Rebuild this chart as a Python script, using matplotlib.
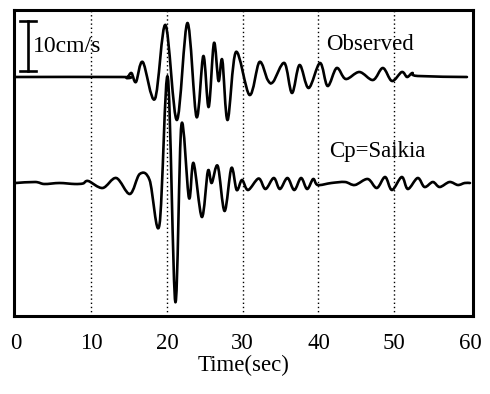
import matplotlib
matplotlib.use("Agg")
import matplotlib.pyplot as plt
from matplotlib.path import Path
from matplotlib.patches import PathPatch

plt.rcParams['font.family'] = ['Liberation Serif', 'DejaVu Serif']

# Observed velocity trace: time (s) and amplitude (cm/s)
obs_t = [0.0, 14.0, 14.7, 15.3, 15.9, 16.8, 18.4, 19.8, 21.3, 22.7, 23.9, 24.8,
         25.5, 26.2, 26.8, 27.3, 28.0, 29.1, 30.9, 32.2, 33.3, 34.0, 35.5, 36.5,
         37.5, 38.7, 40.2, 41.2, 42.4, 43.6, 45.4, 47.2, 48.5, 49.7, 51.0, 51.7,
         52.4, 53.1, 59.6]
obs_a = [0.0, 0.0, -0.2, 0.8, -1.0, 3.0, -4.4, 10.4, -8.6, 10.8, -8.0, 4.2,
         -6.0, 6.8, -0.8, 3.4, -8.6, 5.0, -3.6, 3.0, -0.6, -1.0, 2.8, -3.2,
         2.4, -2.2, 2.8, -1.8, 1.8, -0.4, 1.0, -0.6, 1.8, -0.8, 1.0, 0.0,
         0.8, 0.2, 0.0]

# Synthetic trace (Cp = Saikia)
syn_t = [0.0, 2.6, 3.8, 5.8, 7.8, 8.9, 9.6, 11.5, 13.3, 15.1, 16.4, 17.7,
         19.0, 20.1, 21.1, 21.9, 22.9, 23.5, 24.6, 25.4, 25.9, 26.7, 27.6, 28.5,
         29.2, 29.9, 30.7, 32.1, 33.0, 34.1, 34.9, 35.9, 36.8, 37.7, 38.5, 39.3,
         39.9, 41.7, 43.5, 44.8, 46.5, 47.7, 48.8, 49.7, 51.0, 51.8, 53.1, 54.0,
         55.1, 56.0, 57.3, 58.4, 59.3, 60.0]
syn_a = [0.0, 0.2, -0.2, 0.0, -0.2, -0.1, 0.4, -1.0, 1.0, -2.2, 1.8, 0.6,
         -8.4, 21.2, -23.8, 11.6, -3.0, 4.0, -6.8, 2.4, 0.0, 3.4, -5.6, 3.0,
         -1.4, 0.6, -1.4, 0.9, -1.2, 1.0, -1.2, 1.0, -1.4, 1.0, -1.2, 0.8,
         -0.4, 0.0, 0.2, -0.4, 0.8, -1.0, 1.2, -1.4, 1.2, -1.2, 1.0, -0.8,
         0.2, -0.8, 0.2, -0.4, 0.0, 0.0]

xticks = [0, 10, 20, 30, 40, 50, 60]
grid_x = [10, 20, 30, 40, 50]
scale_bar = 10.0  # cm/s

obs_offset = 47.8
syn_offset = 26.6


def smooth_path(xs, ys):
    """Smooth curve through the given points (Catmull-Rom drawn as Bezier segments)."""
    pts = list(zip(xs, ys))
    verts = [pts[0]]
    codes = [Path.MOVETO]
    n = len(pts)
    for i in range(n - 1):
        p0 = pts[i - 1] if i > 0 else pts[i]
        p1 = pts[i]
        p2 = pts[i + 1]
        p3 = pts[i + 2] if i + 2 < n else pts[i + 1]
        c1 = (p1[0] + (p2[0] - p0[0]) / 6.0, p1[1] + (p2[1] - p0[1]) / 6.0)
        c2 = (p2[0] - (p3[0] - p1[0]) / 6.0, p2[1] - (p3[1] - p1[1]) / 6.0)
        verts += [c1, c2, p2]
        codes += [Path.CURVE4] * 3
    return Path(verts, codes)


fig = plt.figure(figsize=(4.9, 3.94), dpi=100)
ax = fig.add_axes([14/490, 1 - 316/394, 459/490, 306/394])
ax.set_xlim(-0.2, 60.4)
ax.set_ylim(0, 61.2)

for g in grid_x:
    ax.axvline(g, color='black', lw=1.0, ls=(0, (1, 2)), zorder=1)

for tt, aa, off in [(obs_t, obs_a, obs_offset), (syn_t, syn_a, syn_offset)]:
    path = smooth_path(tt, [a + off for a in aa])
    ax.add_patch(PathPatch(path, facecolor='none', edgecolor='black', lw=1.9,
                           joinstyle='round', capstyle='round', zorder=3))

# scale bar
bx = 1.6
y0, y1 = 49.0, 49.0 + scale_bar
ax.plot([bx, bx], [y0, y1], color='black', lw=1.9, zorder=3)
ax.plot([bx - 1.0, bx + 1.1], [y0, y0], color='black', lw=1.9, zorder=3)
ax.plot([bx - 1.0, bx + 1.1], [y1, y1], color='black', lw=1.9, zorder=3)
ax.text(2.3, 54.0, '10cm/s', fontsize=17, va='center', ha='left')

ax.text(46.8, 54.2, 'Observed', fontsize=16.5, va='center', ha='center')
ax.text(47.8, 32.9, 'Cp=Saikia', fontsize=16.5, va='center', ha='center')

ax.set_xticks(xticks)
ax.set_xticklabels([str(v) for v in xticks])
ax.set_yticks([])
ax.tick_params(axis='x', length=0, pad=12, labelsize=16.5)
ax.set_xlabel('Time(sec)', fontsize=16.5, labelpad=1)

for s in ax.spines.values():
    s.set_linewidth(2.2)

fig.savefig('out.png', dpi=100)
